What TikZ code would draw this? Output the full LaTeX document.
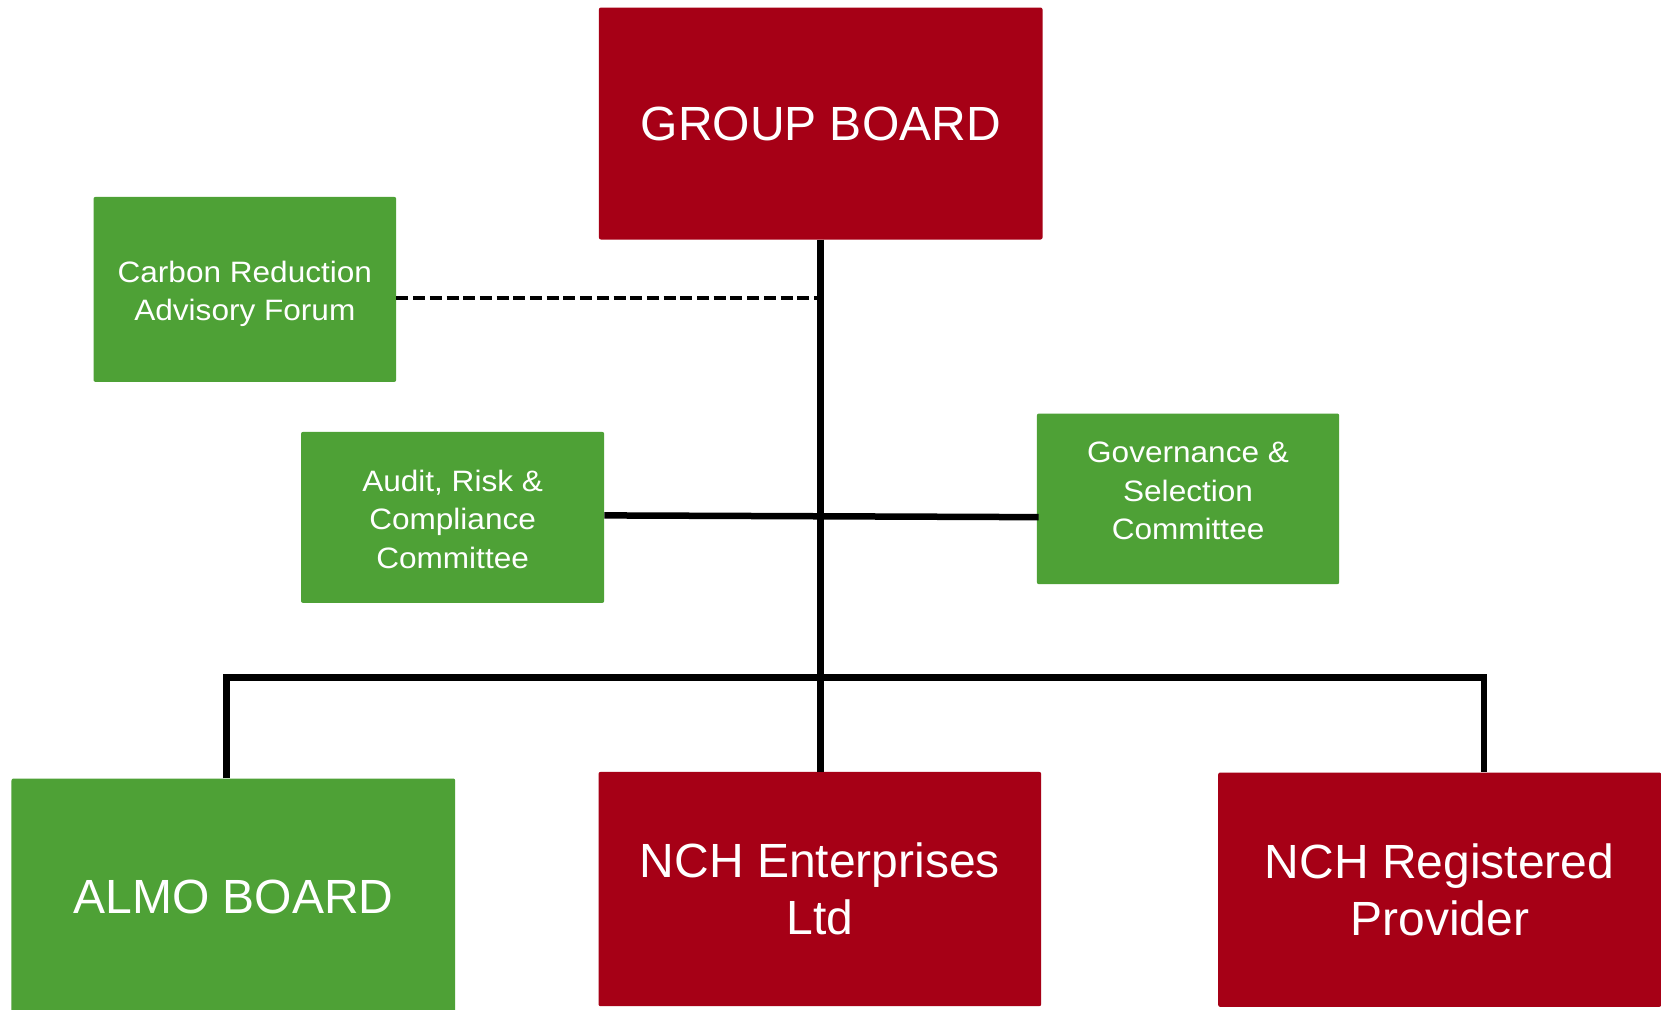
\documentclass[tikz,border=0pt]{standalone}
\usepackage{fontspec}
\setmainfont{Liberation Sans}
\newfontfamily\smallfam[FakeStretch=1.07]{Liberation Sans}
\usetikzlibrary{calc}
\definecolor{boardred}{RGB}{166,0,22}
\definecolor{boardgreen}{RGB}{78,161,54}
\tikzset{
  box/.style={anchor=north west, rounded corners=2bp, inner sep=0pt, align=center, text=white},
  redbox/.style={box, fill=boardred},
  greenbox/.style={box, fill=boardgreen},
  bigtext/.style={font=\fontsize{48bp}{57.4bp}\selectfont},
  smalltext/.style={font=\smallfam\fontsize{29.5bp}{38.5bp}\selectfont},
  link/.style={line width=6.5bp, black},
  dashlink/.style={line width=4.5bp, black, dash pattern=on 12bp off 4.7bp}
}
\begin{document}
\begin{tikzpicture}[x=1bp,y=-1bp]
\clip (0,0) rectangle (1661,1009);
\fill[white] (0,0) rectangle (1661,1009);
\node[redbox,bigtext,minimum width=443.6bp,minimum height=232bp] (gb) at (598.7,7.3) {GROUP BOARD};
\node[greenbox,smalltext,minimum width=302.7bp,minimum height=185bp] (carbon) at (93.3,196.7) {\rule{0pt}{30bp}Carbon Reduction\\Advisory Forum};
\node[greenbox,smalltext,minimum width=303.2bp,minimum height=171bp] (audit) at (300.8,431.7) {\rule{0pt}{25bp}Audit, Risk \&\\Compliance\\Committee};
\node[greenbox,smalltext,minimum width=302.3bp,minimum height=170.7bp] (gov) at (1036.7,413.3) {Governance \&\\Selection\\Committee\rule[-16bp]{0pt}{16bp}};
\node[greenbox,bigtext,minimum width=443.7bp,minimum height=237bp] (almo) at (11.3,778.3) {ALMO BOARD};
\node[redbox,bigtext,minimum width=442.7bp,minimum height=234.3bp] (ent) at (598.3,771.7) {NCH Enterprises\\Ltd};
\node[redbox,bigtext,minimum width=443bp,minimum height=234.4bp] (reg) at (1218,772.3) {NCH Registered\\Provider};
\coordinate (dashStart) at ($(carbon.east)+(0,8.5)$);
\coordinate (dashEnd) at ($(carbon.east -| gb.south)+(-3.5,8.5)$);
\coordinate (bus) at (820.5,677.5);
\draw[link] (gb.south) -- (gb.south |- ent.north);
\draw[link] ($(audit.east)+(0,-2)$) -- ($(gov.west)+(2,18.3)$);
\draw[dashlink] (dashStart) -- (dashEnd);
\draw[link, line join=miter] ($(almo.north)+(-7,0)$) |- (bus) -| ($(reg.north)+(44.5,0)$);
\end{tikzpicture}
\end{document}
